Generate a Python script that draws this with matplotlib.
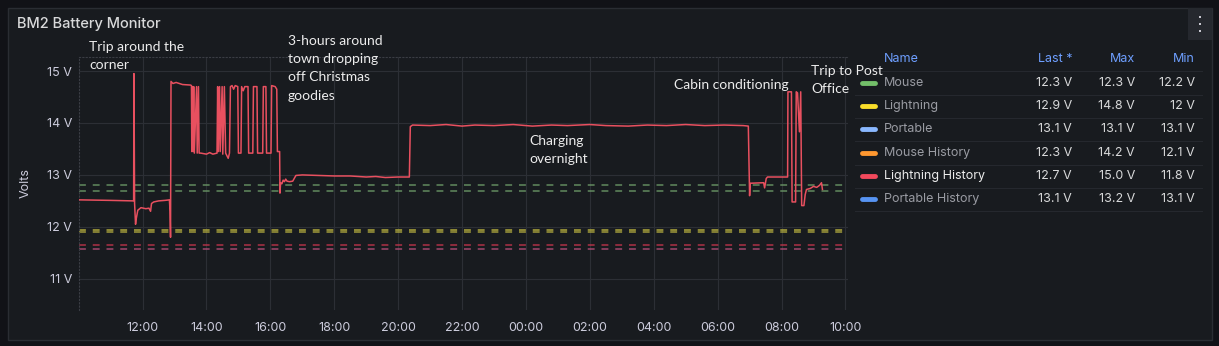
import numpy as np
import matplotlib
matplotlib.use("Agg")
import matplotlib.pyplot as plt
from matplotlib.patches import Rectangle

# --- data (hours since 00:00 of day 1; >24 = next day) ---
hist_t = [10.03, 11.00, 11.70, 11.72, 11.73, 11.75, 11.78, 11.80, 11.85, 11.95, 12.10, 12.20,
          12.25, 12.28, 12.35, 12.50, 12.70, 12.84, 12.86, 12.875, 12.89, 12.95, 13.05, 13.25,
          13.50, 13.53, 13.54, 13.56, 13.58, 13.60, 13.62, 13.69, 13.71, 13.75, 13.77, 13.82,
          14.00, 14.10, 14.20, 14.33, 14.35, 14.37, 14.41, 14.43, 14.49, 14.51, 14.56, 14.60,
          14.68, 14.72, 14.75, 14.80, 14.85, 14.90, 14.98, 15.00, 15.08, 15.10, 15.15, 15.20,
          15.30, 15.32, 15.45, 15.47, 15.58, 15.60, 15.76, 15.78, 15.86, 15.88, 16.02, 16.04,
          16.15, 16.20, 16.22, 16.29, 16.30, 16.32, 16.36, 16.40, 16.44, 16.48, 16.52, 16.60,
          16.70, 16.80, 17.00, 17.50, 18.00, 18.50, 19.00, 19.30, 19.60, 20.00, 20.35, 20.38,
          20.45, 21.00, 21.50, 22.00, 22.40, 23.00, 23.60, 24.20, 24.80, 25.30, 26.00, 26.50,
          27.20, 27.80, 28.40, 29.00, 29.60, 30.20, 30.80, 30.96, 31.00, 31.02, 31.44, 31.47,
          31.52, 31.56, 32.19, 32.20, 32.31, 32.33, 32.44, 32.46, 32.50, 32.56, 32.60, 32.63,
          32.70, 32.74, 32.78, 32.90, 33.00, 33.10, 33.19, 33.25, 33.28]
hist_v = [12.52, 12.51, 12.50, 12.50, 14.95, 12.45, 12.05, 12.15, 12.32, 12.37, 12.35, 12.36,
          12.30, 12.45, 12.48, 12.50, 12.51, 12.52, 12.30, 11.80, 14.80, 14.76, 14.78, 14.74,
          14.73, 14.72, 13.45, 14.70, 13.45, 14.70, 13.42, 14.70, 13.42, 14.70, 13.42, 13.42,
          13.40, 13.43, 13.40, 13.42, 14.70, 13.45, 14.70, 13.45, 14.70, 13.40, 14.70, 13.42,
          13.32, 13.42, 14.70, 14.72, 14.65, 14.72, 14.70, 13.42, 13.42, 14.70, 14.62, 14.70,
          14.70, 13.42, 13.42, 14.70, 14.70, 13.42, 13.42, 14.70, 14.70, 13.42, 13.42, 14.72,
          14.70, 14.65, 13.45, 13.45, 12.65, 12.85, 12.83, 12.90, 12.87, 12.92, 12.88, 12.87,
          12.88, 12.99, 13.00, 12.99, 12.98, 12.98, 12.96, 12.97, 12.95, 12.96, 12.96, 13.93,
          13.96, 13.95, 13.97, 13.94, 13.96, 13.95, 13.97, 13.94, 13.96, 13.95, 13.97, 13.95,
          13.94, 13.96, 13.95, 13.97, 13.95, 13.96, 13.95, 13.94, 12.60, 12.84, 12.85, 12.75,
          12.93, 12.96, 12.96, 14.60, 14.60, 12.48, 12.48, 14.60, 14.58, 13.83, 14.60, 12.41,
          12.41, 12.62, 12.72, 12.74, 12.78, 12.76, 12.80, 12.85, 12.72]

# threshold lines (value, colour)
thr_vals = [12.81, 12.70, 11.94, 11.90, 11.65, 11.58]
thr_cols = ['#6f9e6a', '#6f9e6a', '#c9c040', '#b8b040', '#c8354c', '#b8507a']

yticks = [11, 12, 13, 14, 15]
xticks = [12, 14, 16, 18, 20, 22, 24, 26, 28, 30, 32, 34]

leg_names = ['Mouse', 'Lightning', 'Portable', 'Mouse History', 'Lightning History', 'Portable History']
leg_cols = ['#73BF69', '#FADE2A', '#8AB8FF', '#FF9830', '#F2495C', '#5794F2']
leg_last = ['12.3 V', '12.9 V', '13.1 V', '12.3 V', '12.7 V', '13.1 V']
leg_max = ['12.3 V', '14.8 V', '13.1 V', '14.2 V', '15.0 V', '13.2 V']
leg_min = ['12.2 V', '12 V', '13.1 V', '12.1 V', '11.8 V', '13.1 V']

notes = ["Trip around the\ncorner", "3-hours around\ntown dropping\noff Christmas\ngoodies",
         "Charging\novernight", "Cabin conditioning", "Trip to Post\nOffice"]
note_px = [(89, 41), (288, 35), (529, 135), (674, 79), (811, 65)]

W, H = 1219, 346
BG = '#111217'
PANEL = '#181b1f'
TXT = '#ccccdc'


def px(x, y):
    return x / W, 1 - y / H


fig = plt.figure(figsize=(W / 100, H / 100), dpi=100)
fig.patch.set_facecolor(BG)

# panel
fig.patches.append(Rectangle(px(8, 340), 1204 / W, 332 / H, transform=fig.transFigure,
                             facecolor=PANEL, edgecolor='#2a2d33', lw=1, zorder=0))
fig.patches.append(Rectangle(px(1188, 40), 24 / W, 32 / H, transform=fig.transFigure,
                             facecolor='#25282e', edgecolor='none', zorder=1))
for yy in (17, 24, 31):
    fig.patches.append(Rectangle(px(1199, yy + 1.2), 2.4 / W, 2.4 / H, transform=fig.transFigure,
                                 facecolor='#c8c8d0', edgecolor='none', zorder=2))

fig.text(*px(17, 24), "BM2 Battery Monitor", color='#d8d9da', fontsize=10.5,
         family='Inter', weight='medium', va='center', ha='left')

ax = fig.add_axes([79 / W, (346 - 310) / H, (848 - 79) / W, (310 - 57) / H])
ax.set_zorder(5)
ax.set_facecolor(PANEL)
ax.set_xlim(10.01, 34.08)
ax.set_ylim(10.40, 15.27)

for v, c in zip(thr_vals, thr_cols):
    ax.axhline(v, color=c, lw=1.1, dashes=(4.5, 4.5), alpha=0.85, zorder=2)

ax.plot(hist_t, hist_v, color='#e8505f', lw=1.1, zorder=3)

ax.set_yticks(yticks)
ax.set_yticklabels([f"{y} V" for y in yticks])
ax.set_xticks(xticks)
ax.set_xticklabels([f"{h % 24:02d}:00" for h in xticks])
ax.tick_params(length=0, colors=TXT, labelsize=9)
ax.tick_params(axis='x', pad=8.5)
ax.tick_params(axis='y', pad=5)
for lab in ax.get_xticklabels() + ax.get_yticklabels():
    lab.set_family('Inter')
ax.grid(True, color='#2c2f35', lw=0.8)
ax.set_axisbelow(True)
for s in ['right', 'bottom']:
    ax.spines[s].set_visible(False)
for s in ['left', 'top']:
    ax.spines[s].set_color('#3a3d44')
    ax.spines[s].set_linestyle((0, (1, 2)))
    ax.spines[s].set_linewidth(0.8)
ax.set_ylabel("Volts", color=TXT, fontsize=9, family='Inter')
ax.yaxis.set_label_coords((32 - 79) / 769, 0.5)

for t, (x, y) in zip(notes, note_px):
    fig.text(*px(x, y), t, color='#ececec', fontsize=10, family='Lato',
             va='top', ha='left', linespacing=1.62, zorder=10)

# legend table
fig.text(*px(884, 59), "Name", color='#6E9FFF', fontsize=9, family='Inter', va='center', ha='left')
for lbl, xr in zip(["Last *", "Max", "Min"], [1072, 1135, 1195]):
    fig.text(*px(xr, 59), lbl, color='#6E9FFF', fontsize=9, family='Inter', va='center', ha='right')
row_y = [83, 106, 129, 153, 176, 199]
for i, yy in enumerate(row_y):
    x0, y0 = px(862, yy)
    x1, _ = px(875, yy)
    fig.lines.append(plt.Line2D([x0, x1], [y0, y0], transform=fig.transFigure,
                                color=leg_cols[i], lw=3.5, solid_capstyle='round'))
    ncol = '#ececec' if leg_names[i] == 'Lightning History' else '#9a9ca3'
    fig.text(*px(884, yy), leg_names[i], color=ncol, fontsize=9, family='Inter', va='center', ha='left')
    for vals, xr in zip([leg_last, leg_max, leg_min], [1072, 1135, 1195]):
        fig.text(*px(xr, yy), vals[i], color='#d8d9da', fontsize=9, family='Inter',
                 va='center', ha='right')
for yy in [71, 94.5, 117.5, 141, 164.5, 187.5, 211]:
    a, b = px(855, yy)
    c, _ = px(1202, yy)
    fig.lines.append(plt.Line2D([a, c], [b, b], transform=fig.transFigure, color='#25282e', lw=0.8))

fig.savefig("out.png", dpi=100, facecolor=BG)
